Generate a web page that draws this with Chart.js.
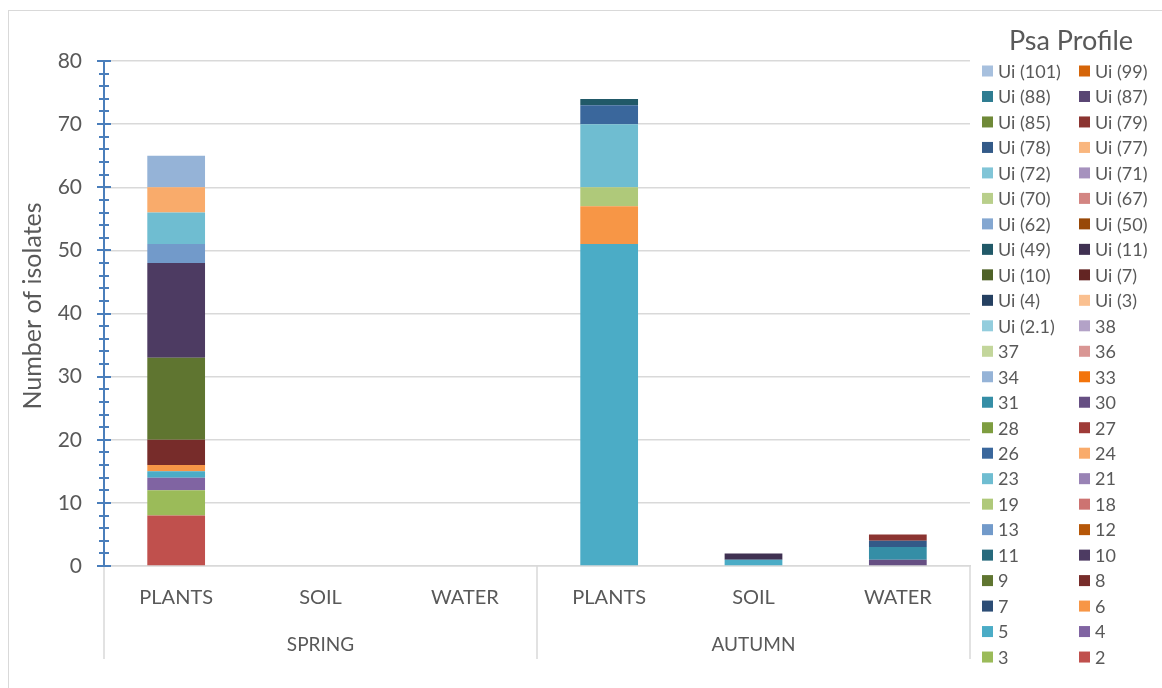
<!DOCTYPE html>
<html>
<head>
<meta charset="utf-8">
<script src="https://cdn.jsdelivr.net/npm/chart.js@4/dist/chart.umd.min.js"></script>
<style>
  body { margin: 0; background: #fff; }
  #wrap { width: 1162px; height: 688px; }
</style>
</head>
<body>
<div id="wrap"><canvas id="psaChart" width="1162" height="688"></canvas></div>
<script>
// x categories (sample type) and the season groups under them
const categories = ['PLANTS', 'SOIL', 'WATER', 'PLANTS', 'SOIL', 'WATER'];
const seasons = ['SPRING', 'AUTUMN'];

// Psa profiles, in stacking order (bottom of the bar first)
const profiles = [
  '2', '3', '4', '5', '6', '7', '8', '9', '10', '11', '12', '13',
  '18', '19', '21', '23', '24', '26', '27', '28', '30', '31', '33', '34',
  '36', '37', '38', 'Ui (2.1)', 'Ui (3)', 'Ui (4)', 'Ui (7)', 'Ui (10)',
  'Ui (11)', 'Ui (49)', 'Ui (50)', 'Ui (62)', 'Ui (67)', 'Ui (70)', 'Ui (71)', 'Ui (72)',
  'Ui (77)', 'Ui (78)', 'Ui (79)', 'Ui (85)', 'Ui (87)', 'Ui (88)', 'Ui (99)', 'Ui (101)'
];

const profileColors = [
  '#C0504D', '#9BBB59', '#8064A2', '#4BACC6', '#F79646', '#2C4D75',
  '#772C2A', '#5F7530', '#4D3B62', '#276A7C', '#B65708', '#729ACA',
  '#CD7371', '#AFC97A', '#9983B5', '#6FBDD1', '#F9AB6B', '#3A679C',
  '#9F3B38', '#7E9D40', '#664F83', '#358EA6', '#F3740B', '#95B3D7',
  '#D99694', '#C3D69B', '#B3A2C7', '#93CDDD', '#FAC090', '#254061',
  '#632523', '#4F6228', '#403152', '#215968', '#984807', '#84A7D1',
  '#D38582', '#B9CF8B', '#A692BE', '#81C5D7', '#F9B67E', '#335A88',
  '#8B3431', '#6F8938', '#594573', '#2E7C91', '#D56509', '#A7C0DE'
];

// number of isolates per profile, columns follow `categories`
const isolates = [
  [8, 0, 0, 0, 0, 0],   // 2
  [4, 0, 0, 0, 0, 0],   // 3
  [2, 0, 0, 0, 0, 0],   // 4
  [1, 0, 0, 51, 1, 0],  // 5
  [1, 0, 0, 6, 0, 0],   // 6
  [0, 0, 0, 0, 0, 0],   // 7
  [4, 0, 0, 0, 0, 0],   // 8
  [13, 0, 0, 0, 0, 0],  // 9
  [15, 0, 0, 0, 0, 0],  // 10
  [0, 0, 0, 0, 0, 0],   // 11
  [0, 0, 0, 0, 0, 0],   // 12
  [3, 0, 0, 0, 0, 0],   // 13
  [0, 0, 0, 0, 0, 0],   // 18
  [0, 0, 0, 3, 0, 0],   // 19
  [0, 0, 0, 0, 0, 0],   // 21
  [5, 0, 0, 10, 0, 0],  // 23
  [4, 0, 0, 0, 0, 0],   // 24
  [0, 0, 0, 3, 0, 0],   // 26
  [0, 0, 0, 0, 0, 0],   // 27
  [0, 0, 0, 0, 0, 0],   // 28
  [0, 0, 0, 0, 0, 1],   // 30
  [0, 0, 0, 0, 0, 2],   // 31
  [0, 0, 0, 0, 0, 0],   // 33
  [5, 0, 0, 0, 0, 0],   // 34
  [0, 0, 0, 0, 0, 0],   // 36
  [0, 0, 0, 0, 0, 0],   // 37
  [0, 0, 0, 0, 0, 0],   // 38
  [0, 0, 0, 0, 0, 0],   // Ui (2.1)
  [0, 0, 0, 0, 0, 0],   // Ui (3)
  [0, 0, 0, 0, 0, 0],   // Ui (4)
  [0, 0, 0, 0, 0, 0],   // Ui (7)
  [0, 0, 0, 0, 0, 0],   // Ui (10)
  [0, 0, 0, 0, 1, 0],   // Ui (11)
  [0, 0, 0, 1, 0, 0],   // Ui (49)
  [0, 0, 0, 0, 0, 0],   // Ui (50)
  [0, 0, 0, 0, 0, 0],   // Ui (62)
  [0, 0, 0, 0, 0, 0],   // Ui (67)
  [0, 0, 0, 0, 0, 0],   // Ui (70)
  [0, 0, 0, 0, 0, 0],   // Ui (71)
  [0, 0, 0, 0, 0, 0],   // Ui (72)
  [0, 0, 0, 0, 0, 0],   // Ui (77)
  [0, 0, 0, 0, 0, 1],   // Ui (78)
  [0, 0, 0, 0, 0, 1],   // Ui (79)
  [0, 0, 0, 0, 0, 0],   // Ui (85)
  [0, 0, 0, 0, 0, 0],   // Ui (87)
  [0, 0, 0, 0, 0, 0],   // Ui (88)
  [0, 0, 0, 0, 0, 0],   // Ui (99)
  [0, 0, 0, 0, 0, 0]    // Ui (101)
];

const yTicks = [0, 10, 20, 30, 40, 50, 60, 70, 80];

const FONT = 'Lato, "Open Sans", sans-serif';
const TEXT = '#595959';
const AXIS_BLUE = '#4a7ebb';
const LINE_GREY = '#d9d9d9';

// outer frame, group separators and the blue tick marks on the y axis
const framePlugin = {
  id: 'frame',
  beforeDraw(chart) {
    const ctx = chart.ctx;
    ctx.save();
    ctx.strokeStyle = LINE_GREY;
    ctx.lineWidth = 1;
    ctx.strokeRect(8.5, 10.5, 1200, 700);
    ctx.restore();
  },
  afterDraw(chart) {
    const ctx = chart.ctx;
    const x = chart.scales.x;
    const x2 = chart.scales.x2;
    const y = chart.scales.y;
    ctx.save();

    // separators between season groups
    ctx.strokeStyle = LINE_GREY;
    ctx.lineWidth = 1.5;
    const mid = (x.left + x.right) / 2;
    [x.left, mid, x.right].forEach((px) => {
      ctx.beginPath();
      ctx.moveTo(px, chart.chartArea.bottom);
      ctx.lineTo(px, x2.bottom);
      ctx.stroke();
    });

    // major ticks every 10, minor ticks every 2, crossing the axis
    ctx.strokeStyle = AXIS_BLUE;
    ctx.lineWidth = 2;
    const ax = y.right;
    for (let v = 0; v <= 80; v += 2) {
      const py = Math.round(y.getPixelForValue(v));
      const major = yTicks.includes(v);
      ctx.beginPath();
      ctx.moveTo(ax - (major ? 7 : 5), py);
      ctx.lineTo(ax + (major ? 7 : 5), py);
      ctx.stroke();
    }

    // axis title, centred a little above the middle of the plot
    ctx.fillStyle = TEXT;
    ctx.font = '25px ' + FONT;
    ctx.textAlign = 'center';
    ctx.textBaseline = 'middle';
    ctx.translate(33, 306);
    ctx.rotate(-Math.PI / 2);
    ctx.fillText('Number of isolates', 0, 0);
    ctx.restore();
  }
};

// two-column legend, read left to right, top profile first
const legendPlugin = {
  id: 'psaLegend',
  afterDraw(chart) {
    const ctx = chart.ctx;
    const items = chart.data.datasets.slice().reverse();
    ctx.save();
    ctx.fillStyle = TEXT;
    ctx.font = '27px ' + FONT;
    ctx.textAlign = 'center';
    ctx.textBaseline = 'middle';
    ctx.fillText('Psa Profile', 1071, 41);

    ctx.font = '18px ' + FONT;
    ctx.textAlign = 'left';
    const colX = [982, 1079];
    items.forEach((ds, i) => {
      const row = Math.floor(i / 2);
      const col = i % 2;
      const cy = 71 + row * 25.48;
      ctx.fillStyle = ds.backgroundColor;
      ctx.fillRect(colX[col], cy - 5.5, 11, 11);
      ctx.fillStyle = TEXT;
      ctx.fillText(ds.label, colX[col] + 16, cy + 1);
    });
    ctx.restore();
  }
};

const datasets = profiles.map((name, i) => ({
  label: name,
  data: isolates[i],
  backgroundColor: profileColors[i],
  borderWidth: 0,
  categoryPercentage: 1,
  barPercentage: 0.4
}));

new Chart(document.getElementById('psaChart'), {
  type: 'bar',
  data: { labels: categories, datasets: datasets },
  options: {
    responsive: false,
    animation: false,
    layout: { padding: { left: 0, top: 61, right: 192, bottom: 29 } },
    plugins: {
      legend: { display: false },
      tooltip: { enabled: false }
    },
    scales: {
      x: {
        stacked: true,
        weight: 0,
        grid: { display: false },
        border: { display: true, color: LINE_GREY, width: 1.5 },
        ticks: { color: TEXT, font: { family: FONT, size: 20 }, padding: 12, maxRotation: 0 },
        afterFit: (s) => { s.height = 46; }
      },
      x2: {
        type: 'category',
        position: 'bottom',
        weight: 1,
        labels: seasons,
        offset: true,
        grid: { display: false },
        border: { display: false },
        ticks: { color: TEXT, font: { family: FONT, size: 19 }, padding: 13, maxRotation: 0 },
        afterFit: (s) => { s.height = 47; }
      },
      y: {
        stacked: true,
        min: 0,
        max: 80,
        ticks: {
          stepSize: 2,
          autoSkip: false,
          color: TEXT,
          font: { family: FONT, size: 21 },
          padding: 14,
          callback: (v) => (yTicks.includes(v) ? String(v) : '')
        },
        grid: {
          color: (c) => (yTicks.includes(c.tick && c.tick.value) ? LINE_GREY : 'rgba(0,0,0,0)'),
          lineWidth: 1.5,
          tickColor: 'rgba(0,0,0,0)',
          tickLength: 8
        },
        border: { color: AXIS_BLUE, width: 2 },
        afterFit: (s) => { s.width = 104; }
      }
    }
  },
  plugins: [framePlugin, legendPlugin]
});
</script>
</body>
</html>
